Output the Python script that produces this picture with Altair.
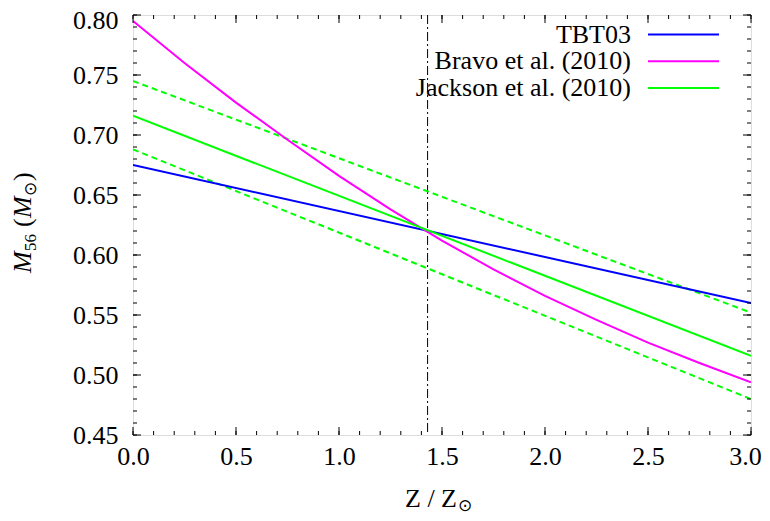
import altair as alt
import pandas as pd

# ---- data ----
z_lin = [0.0, 3.0]
tbt03 = [0.675, 0.560]
jackson = [0.716, 0.516]
jackson_hi = [0.745, 0.552]
jackson_lo = [0.688, 0.480]

z_bravo = [0.0, 0.25, 0.5, 0.75, 1.0, 1.25, 1.5, 1.75, 2.0, 2.25, 2.5, 2.75, 3.0]
bravo = [0.795, 0.760, 0.727, 0.696, 0.666, 0.638, 0.612, 0.588, 0.566, 0.546, 0.527, 0.510, 0.494]

z_vline = [1.43]

legend_names = ["TBT03", "Bravo et al. (2010)", "Jackson et al. (2010)"]
legend_colors = ["#0000ff", "#ff00ff", "#00ff00"]

x_ticks = [0.0, 0.5, 1.0, 1.5, 2.0, 2.5, 3.0]
y_ticks = [0.45, 0.50, 0.55, 0.60, 0.65, 0.70, 0.75, 0.80]
x_minor = [round(i * 0.1, 2) for i in range(31)]
y_minor = [round(0.45 + i * 0.01, 2) for i in range(36)]

# axis title pieces (main text, subscript)
x_title_main = "Z / Z"
x_title_sub = "⊙"
y_title_parts = ["M", "56", "(", "M", "⊙", ")"]

W, H = 618, 420
FONT = "Liberation Serif, Times New Roman, DejaVu Serif, serif"
FS = 26
SUB = 17

rows = []
for name, col, dash, zs, vs in [
    ("TBT03", "#0000ff", "solid", z_lin, tbt03),
    ("Bravo", "#ff00ff", "solid", z_bravo, bravo),
    ("Jackson", "#00ff00", "solid", z_lin, jackson),
    ("Jackson_hi", "#00ff00", "dash", z_lin, jackson_hi),
    ("Jackson_lo", "#00ff00", "dash", z_lin, jackson_lo),
]:
    for z, v in zip(zs, vs):
        rows.append({"series": name, "color": col, "dash": dash, "z": z, "m": v})
df = pd.DataFrame(rows)

xs = alt.Scale(domain=[0, 3], nice=False, zero=False)
ys = alt.Scale(domain=[0.45, 0.80], nice=False, zero=False)

x_axis = alt.Axis(values=x_ticks, format=".1f", ticks=False, domain=False, grid=False,
                  labelFlush=False, labelOverlap=False,
                  labelOffset={"condition": {"test": "datum.value >= 2.99", "value": -6}, "value": 0},
                  labelFont=FONT, labelFontSize=FS, labelColor="black", labelPadding=8,
                  title="")
y_axis = alt.Axis(values=y_ticks, format=".2f", ticks=False, domain=False, grid=False,
                  labelFlush=False, labelOverlap=False,
                  labelOffset={"condition": {"test": "datum.value >= 0.799", "value": 5}, "value": 0},
                  labelFont=FONT, labelFontSize=FS, labelColor="black", labelPadding=15,
                  title="")

X = lambda f: alt.X(f, scale=xs, axis=x_axis)
Y = lambda f: alt.Y(f, scale=ys, axis=y_axis)

solid = alt.Chart(df[df.dash == "solid"]).mark_line(strokeWidth=2, clip=True).encode(
    x=X("z:Q"), y=Y("m:Q"),
    color=alt.Color("color:N", scale=None),
    detail="series:N",
)
dashed = alt.Chart(df[df.dash == "dash"]).mark_line(strokeWidth=2, strokeDash=[6, 4], clip=True).encode(
    x=X("z:Q"), y=Y("m:Q"),
    color=alt.Color("color:N", scale=None),
    detail="series:N",
)
vline = alt.Chart(pd.DataFrame({"z": z_vline})).mark_rule(
    color="black", strokeWidth=1, strokeDash=[9, 3, 2, 3]).encode(x=X("z:Q"))

# inward ticks on all four sides
def yticks(vals, ln):
    d = pd.DataFrame({"v": vals})
    left = alt.Chart(d).mark_rule(color="black", strokeWidth=1).encode(
        y=Y("v:Q"), x=alt.value(0), x2=alt.value(ln))
    right = alt.Chart(d).mark_rule(color="black", strokeWidth=1).encode(
        y=Y("v:Q"), x=alt.value(W), x2=alt.value(W - ln))
    return [left, right]

def xticks(vals, ln):
    d = pd.DataFrame({"v": vals})
    bottom = alt.Chart(d).mark_rule(color="black", strokeWidth=1).encode(
        x=X("v:Q"), y=alt.value(H), y2=alt.value(H - ln))
    top = alt.Chart(d).mark_rule(color="black", strokeWidth=1).encode(
        x=X("v:Q"), y=alt.value(0), y2=alt.value(ln))
    return [bottom, top]

tick_layers = yticks(y_minor, 4) + yticks(y_ticks, 8) + xticks(x_minor, 4) + xticks(x_ticks, 8)

# legend (gnuplot style: text left, line sample right)
leg = pd.DataFrame({"name": legend_names, "color": legend_colors, "i": [0, 1, 2]})
leg_text = alt.Chart(leg).transform_calculate(ly="19.5 + datum.i * 26.7").mark_text(
    align="right", baseline="middle", font=FONT, fontSize=FS, color="black").encode(
    x=alt.value(498), y=alt.Y("ly:Q", scale=None), text="name:N")
leg_line = alt.Chart(leg).transform_calculate(ly="19.5 + datum.i * 26.7").mark_rule(
    strokeWidth=2).encode(
    x=alt.value(515), x2=alt.value(586), y=alt.Y("ly:Q", scale=None),
    color=alt.Color("color:N", scale=None))

# axis titles built from text pieces (italic M, subscripts)
def txt(s, px, py, size=FS, style="normal", align="left", angle=0, font=FONT):
    return alt.Chart(pd.DataFrame({"t": [s]})).mark_text(
        align=align, baseline="alphabetic", font=font, fontSize=size, fontStyle=style,
        color="black", angle=angle).encode(text="t:N", x=alt.value(px), y=alt.value(py))

xt = [
    txt(x_title_main, 324, 492, align="right"),
    txt(x_title_sub, 325, 496, size=SUB, font="DejaVu Sans"),
]
# y title: rotated, reading bottom to top
yb = -102   # baseline x (plot coords)
yt = [
    txt(y_title_parts[0], yb, 258, style="italic", angle=270),
    txt(y_title_parts[1], yb + 5, 236, size=SUB, angle=270),
    txt(y_title_parts[2], yb, 212, angle=270),
    txt(y_title_parts[3], yb, 203, style="italic", angle=270),
    txt(y_title_parts[4], yb + 5, 181, size=SUB, angle=270, font="DejaVu Sans"),
    txt(y_title_parts[5], yb, 166, angle=270),
]

chart = alt.layer(vline, dashed, solid, *tick_layers, leg_line, leg_text, *xt, *yt).properties(
    width=W, height=H,
    autosize=alt.AutoSizeParams(type="none"),
    padding={"left": 125, "top": 7, "right": 11, "bottom": 85},
).configure_view(stroke="black", strokeWidth=1.5).configure(background="white")

chart.save("out.html", embed_options={"renderer": "svg", "actions": False})
